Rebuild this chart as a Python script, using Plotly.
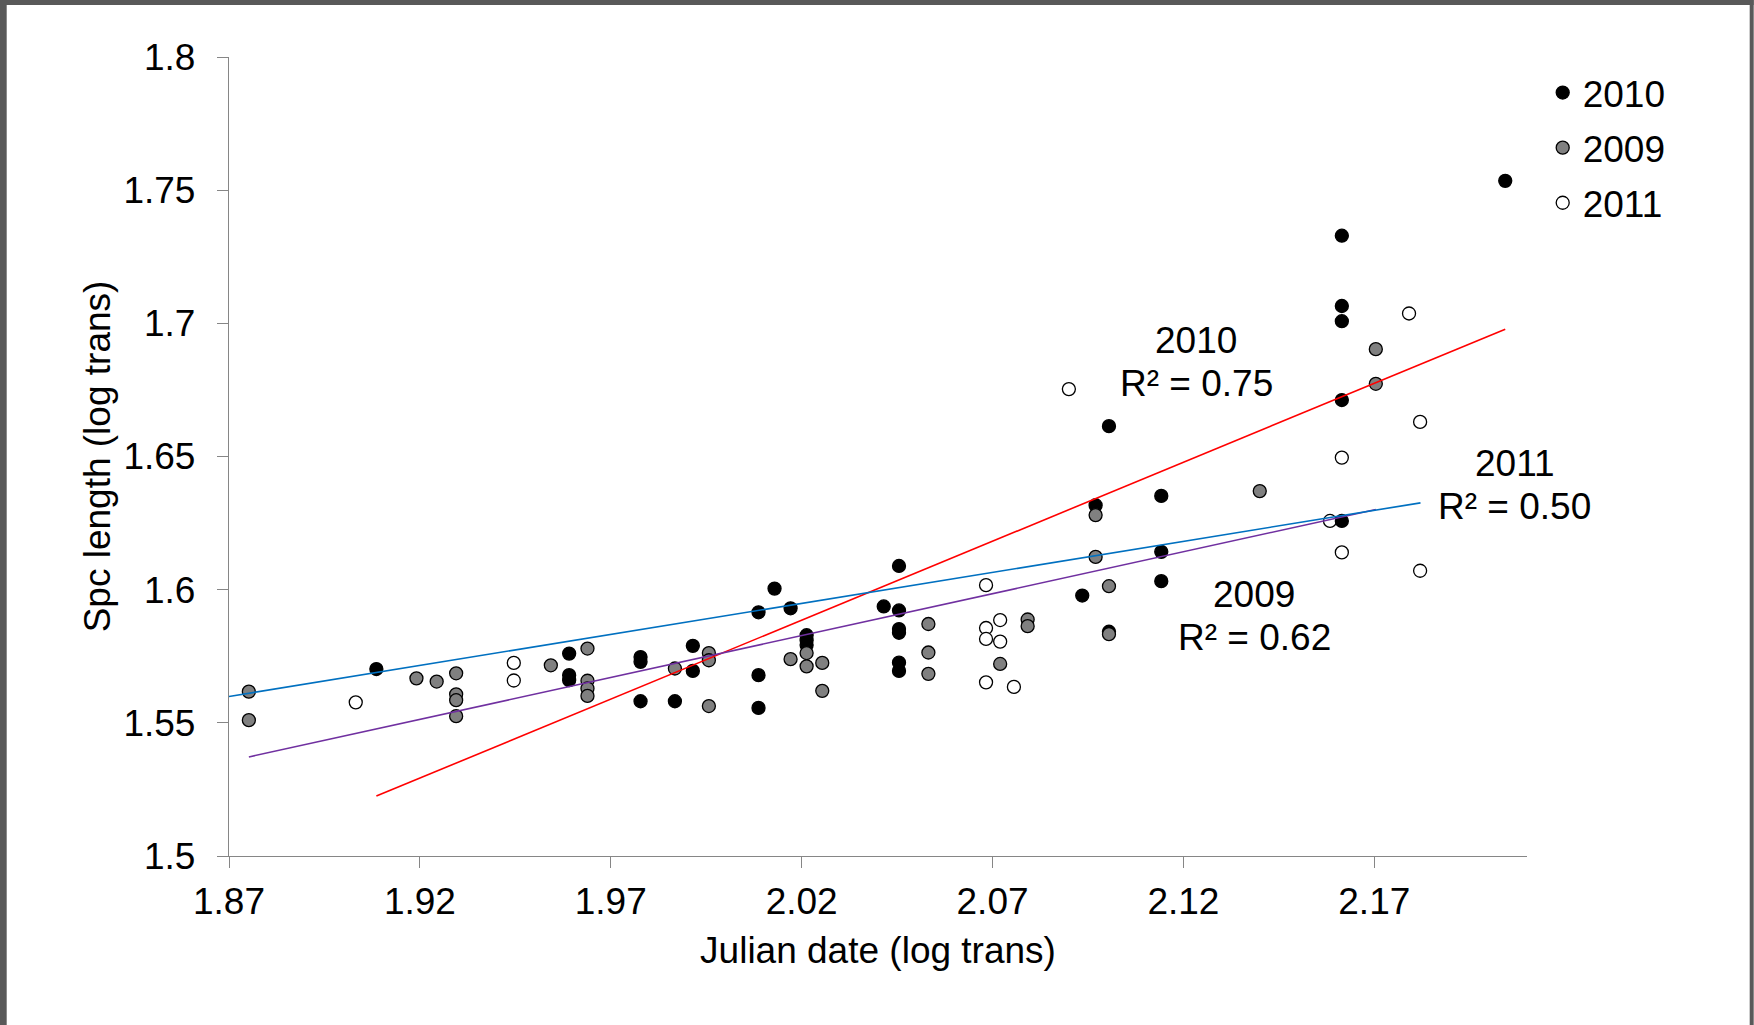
import plotly.graph_objects as go

# ---- data ----
x_2010 = [1.9086, 1.9591, 1.9591, 1.9591, 1.9778, 1.9778, 1.9778, 1.9868, 1.9915, 1.9915,
          2.0087, 2.0087, 2.0087, 2.0129, 2.0171, 2.0213, 2.0213, 2.0213, 2.0415, 2.0455,
          2.0455, 2.0455, 2.0455, 2.0455, 2.0455, 2.0935, 2.0970, 2.1005, 2.1005, 2.1142,
          2.1142, 2.1142, 2.1615, 2.1615, 2.1615, 2.1615, 2.1615, 2.2043]
y_2010 = [1.5702, 1.5760, 1.5679, 1.5660, 1.5747, 1.5729, 1.5581, 1.5581, 1.5789, 1.5695,
          1.5915, 1.5679, 1.5556, 1.6004, 1.5930, 1.5829, 1.5810, 1.5792, 1.5937, 1.6089,
          1.5922, 1.5852, 1.5838, 1.5726, 1.5695, 1.5978, 1.6317, 1.6614, 1.5842, 1.6352,
          1.6142, 1.6032, 1.7329, 1.7065, 1.7008, 1.6712, 1.6258, 1.7535]

x_2009 = [1.8752, 1.8752, 1.9191, 1.9244, 1.9295, 1.9295, 1.9295, 1.9295, 1.9543, 1.9639,
          1.9639, 1.9639, 1.9639, 1.9868, 1.9957, 1.9957, 1.9957, 2.0171, 2.0213, 2.0213,
          2.0254, 2.0254, 2.0532, 2.0532, 2.0532, 2.0720, 2.0792, 2.0792, 2.0970, 2.0970,
          2.1005, 2.1005, 2.1400, 2.1704, 2.1704]
y_2009 = [1.5617, 1.5510, 1.5667, 1.5655, 1.5686, 1.5607, 1.5585, 1.5525, 1.5716, 1.5779,
          1.5658, 1.5629, 1.5601, 1.5704, 1.5762, 1.5735, 1.5563, 1.5739, 1.5762, 1.5712,
          1.5725, 1.5620, 1.5871, 1.5764, 1.5684, 1.5721, 1.5888, 1.5863, 1.6280, 1.6123,
          1.6013, 1.5833, 1.6370, 1.6903, 1.6773]

x_2011 = [1.9032, 1.9446, 1.9446, 2.0683, 2.0683, 2.0683, 2.0683, 2.0720, 2.0720, 2.0756,
          2.0900, 2.1584, 2.1615, 2.1615, 2.1791, 2.1820, 2.1820]
y_2011 = [1.5577, 1.5725, 1.5659, 1.6017, 1.5856, 1.5815, 1.5652, 1.5886, 1.5805, 1.5635,
          1.6753, 1.6258, 1.6496, 1.6140, 1.7037, 1.6630, 1.6071]

# trend line end points
trend_x_2010 = [1.9086, 2.2043]
trend_y_2010 = [1.5225, 1.6978]
trend_x_2009 = [1.8752, 2.1704]
trend_y_2009 = [1.5372, 1.6301]
trend_x_2011 = [1.8700, 2.1821]
trend_y_2011 = [1.5599, 1.6326]

x_ticks = [1.87, 1.92, 1.97, 2.02, 2.07, 2.12, 2.17]
x_tick_labels = ["1.87", "1.92", "1.97", "2.02", "2.07", "2.12", "2.17"]
y_ticks = [1.5, 1.55, 1.6, 1.65, 1.7, 1.75, 1.8]
y_tick_labels = ["1.5", "1.55", "1.6", "1.65", "1.7", "1.75", "1.8"]

fit_years = ["2010", "2009", "2011"]
fit_r2 = ["R² = 0.75", "R² = 0.62", "R² = 0.50"]
label_pos = [(2.1233, 1.6934, 1.6774), (2.1386, 1.5983, 1.5821), (2.2068, 1.6475, 1.6311)]

FONT = "Liberation Sans, Arial, sans-serif"
FS = 37
AX = "#868686"

fig = go.Figure()

def pts(x, y, name, fill, rank):
    fig.add_trace(go.Scatter(
        x=x, y=y, mode="markers", name=name, legendrank=rank, legendgroup=name,
        marker=dict(symbol="circle", size=13, color=fill,
                    line=dict(color="black", width=1.3)),
    ))

pts(x_2011, y_2011, "2011", "white", 3)
pts(x_2010, y_2010, "2010", "black", 1)
pts(x_2009, y_2009, "2009", "#808080", 2)

for tx, ty, col in [(trend_x_2010, trend_y_2010, "#FF0000"),
                    (trend_x_2009, trend_y_2009, "#7030A0"),
                    (trend_x_2011, trend_y_2011, "#0070C0")]:
    fig.add_trace(go.Scatter(x=tx, y=ty, mode="lines", showlegend=False,
                             line=dict(color=col, width=1.6), hoverinfo="skip"))

for yr, r2, (lx, ly1, ly2) in zip(fit_years, fit_r2, label_pos):
    for t, ly in ((yr, ly1), (r2, ly2)):
        fig.add_annotation(x=lx, y=ly, xref="x", yref="y", text=t, showarrow=False,
                           xanchor="center", yanchor="middle", align="center",
                           font=dict(size=FS, color="black", family=FONT))

# outer grey frame
FR = "#595959"
fig.add_shape(type="rect", xref="paper", yref="paper", layer="above",
              x0=-229.3 / 1298, x1=(-229.3 + 7) / 1298, y0=-169 / 799, y1=(799 + 57) / 799,
              fillcolor=FR, line_width=0)
fig.add_shape(type="rect", xref="paper", yref="paper", layer="above",
              x0=(1750 - 229.3) / 1298, x1=(1754 - 229.3) / 1298, y0=-169 / 799, y1=(799 + 57) / 799,
              fillcolor=FR, line_width=0)
fig.add_shape(type="rect", xref="paper", yref="paper", layer="above",
              x0=-229.3 / 1298, x1=(1754 - 229.3) / 1298, y0=(856 - 5) / 799, y1=856 / 799,
              fillcolor=FR, line_width=0)

fig.update_layout(
    width=1754, height=1025,
    margin=dict(l=229, r=227, t=57, b=169),
    paper_bgcolor="white", plot_bgcolor="white",
    font=dict(family=FONT, size=FS, color="black"),
    showlegend=True,
    legend=dict(x=(1543 - 229.3) / 1298, y=(856 - 62) / 799, xanchor="left", yanchor="top",
                bgcolor="rgba(0,0,0,0)", font=dict(size=FS, family=FONT),
                tracegroupgap=4, itemsizing="trace"),
    xaxis=dict(range=[1.87, 2.21], tickvals=x_ticks, ticktext=x_tick_labels,
               showgrid=False, zeroline=False, showline=True, linecolor=AX, linewidth=1.3,
               ticks="outside", ticklen=11, tickcolor=AX, tickwidth=1.3,
               tickfont=dict(size=FS, family=FONT), ticklabelstandoff=1,
               title=dict(text="Julian date (log trans)", font=dict(size=FS, family=FONT), standoff=16)),
    yaxis=dict(range=[1.5, 1.8], tickvals=y_ticks, ticktext=y_tick_labels,
               showgrid=False, zeroline=False, showline=True, linecolor=AX, linewidth=1.3,
               ticks="outside", ticklen=11, tickcolor=AX, tickwidth=1.3,
               tickfont=dict(size=FS, family=FONT), ticklabelstandoff=14,
               title=dict(text="Spc length (log trans)", font=dict(size=FS, family=FONT), standoff=1)),
)

fig.write_html("out.html")
